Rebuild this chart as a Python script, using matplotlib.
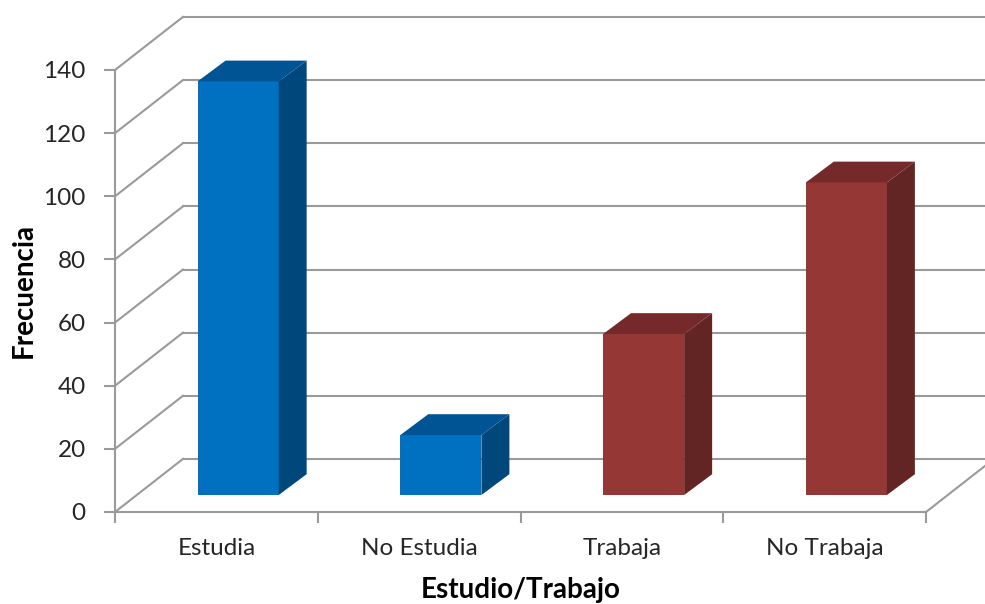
import matplotlib.pyplot as plt
from matplotlib.patches import Polygon

plt.rcParams['font.family'] = ['Lato', 'DejaVu Sans']

categorias = ['Estudia', 'No Estudia', 'Trabaja', 'No Trabaja']
frecuencias = [131, 19, 51, 99]
yticks = [0, 20, 40, 60, 80, 100, 120, 140]

# colores de cada barra: (frente, lado, tapa)
azul = ('#0070C0', '#00487C', '#005494')
rojo = ('#953735', '#632523', '#76292A')
colores = [azul, azul, rojo, rojo]

# profundidad del "3D" en unidades de datos
PX, PY = 0.335, 16.8       # desplazamiento total de la pared del fondo
D0 = 0.32                  # posicion de la barra dentro de la profundidad
BX, BY = 0.138, 6.6        # grosor de la barra
ANCHO = 0.40
gris = '#9A9A9A'
texto = '#262626'

fig = plt.figure(figsize=(9.85, 6.04), dpi=100)
ax = fig.add_axes([115 / 985, 92 / 604, 811 / 985, 442 / 604])
ax.set_xlim(-0.5, 3.5)
ax.set_ylim(0, 140)

# paredes: lineas de la pared izquierda y del fondo
for v in yticks:
    ax.plot([-0.5, -0.5 + PX], [v, v + PY], color=gris, lw=1.5,
            clip_on=False, zorder=1)
    ax.plot([-0.5 + PX, 4.2], [v + PY, v + PY], color=gris, lw=1.5,
            clip_on=False, zorder=1)
# borde derecho del piso
ax.plot([3.5, 3.5 + PX], [0, PY], color=gris, lw=1.5, clip_on=False, zorder=1)

# barras con cara frontal, lateral y superior
for i, (v, c) in enumerate(zip(frecuencias, colores)):
    x0 = i - ANCHO / 2 + D0 * PX
    x1 = i + ANCHO / 2 + D0 * PX
    y0 = D0 * PY
    y1 = v + D0 * PY
    frente = Polygon([(x0, y0), (x1, y0), (x1, y1), (x0, y1)],
                     closed=True, fc=c[0], ec='none', zorder=3, clip_on=False)
    lado = Polygon([(x1, y0), (x1 + BX, y0 + BY), (x1 + BX, y1 + BY), (x1, y1)],
                   closed=True, fc=c[1], ec='none', zorder=3, clip_on=False)
    tapa = Polygon([(x0, y1), (x1, y1), (x1 + BX, y1 + BY), (x0 + BX, y1 + BY)],
                   closed=True, fc=c[2], ec='none', zorder=3, clip_on=False)
    for p in (frente, lado, tapa):
        ax.add_patch(p)

# ejes
for s in ['top', 'right']:
    ax.spines[s].set_visible(False)
for s in ['left', 'bottom']:
    ax.spines[s].set_color(gris)
    ax.spines[s].set_linewidth(1.5)
    ax.spines[s].set_zorder(2)

ax.set_yticks(yticks)
ax.set_yticklabels([str(t) for t in yticks], fontsize=17.5, color=texto)
ax.tick_params(axis='y', length=8, width=1.5, color=gris, pad=13)

ax.set_xticks(range(len(categorias)))
ax.set_xticklabels(categorias, fontsize=17.5, color=texto)
ax.set_xticks([-0.5, 0.5, 1.5, 2.5, 3.5], minor=True)
ax.tick_params(axis='x', which='major', length=0, pad=19)
ax.tick_params(axis='x', which='minor', length=8, width=1.5, color=gris)

ax.set_ylabel('Frecuencia', fontsize=20, fontweight='bold', labelpad=5,
              color='black')
ax.set_xlabel('Estudio/Trabajo', fontsize=20, fontweight='bold', labelpad=13,
              color='black')

fig.savefig('out.png', dpi=100, facecolor='white')
